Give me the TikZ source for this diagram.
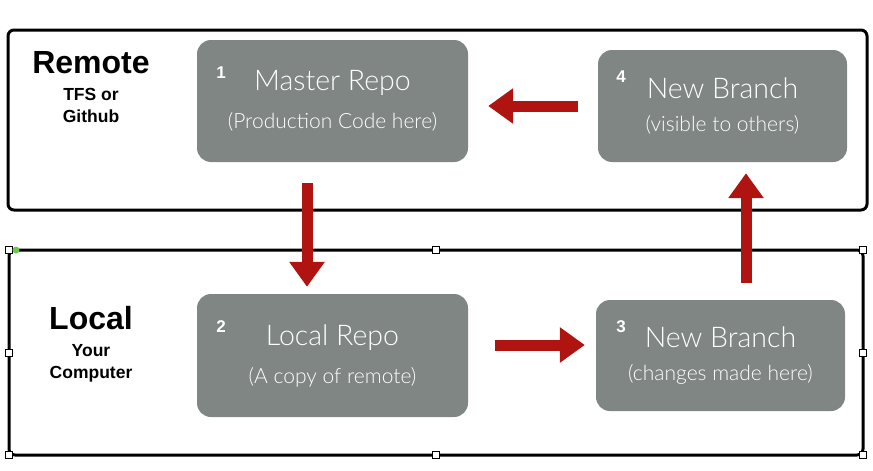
\documentclass[tikz,border=0pt]{standalone}
\usepackage{fontspec}
\setmainfont{Liberation Sans}
\IfFontExistsTF{Lato Light}{\newfontfamily\boxfont{Lato Light}}{\newfontfamily\boxfont{Lato}}
\usetikzlibrary{arrows.meta}
\definecolor{boxgray}{RGB}{128,134,131}
\definecolor{arrowred}{RGB}{175,20,17}
\definecolor{handlegreen}{RGB}{110,200,80}
\tikzset{
  frame/.style={draw=black, line width=3pt, rounded corners=6pt, inner sep=0pt},
  graybox/.style={fill=boxgray, rounded corners=14pt, inner sep=0pt, text=white, align=center, font=\boxfont},
  numlabel/.style={text=white, font=\bfseries\fontsize{17}{17}\selectfont, anchor=base, inner sep=0pt},
  bigtitle/.style={font=\bfseries\fontsize{32}{32}\selectfont, anchor=base, inner sep=0pt},
  smalltitle/.style={font=\bfseries\fontsize{17.5}{17.5}\selectfont, anchor=base, inner sep=0pt},
  redarrow/.style={draw=arrowred, line width=11pt, -{Triangle[width=34pt,length=25pt]}},
  handle/.style={draw=black, fill=white, line width=0.6pt, minimum size=6.5pt, inner sep=0pt},
}
\newcommand{\boxtext}[2]{{\fontsize{28.5}{28.5}\selectfont #1}\\[16pt]{\fontsize{21}{21}\selectfont #2}}
\begin{document}
\begin{tikzpicture}[x=1pt,y=-1pt]
\useasboundingbox (0,0) rectangle (873,471);
% outer frames
\node[frame, minimum width=859pt, minimum height=180pt] (remote) at (437.5,120) {};
\node[frame, minimum width=854pt, minimum height=205pt] (local) at (436,352.5) {};
% handles
\foreach \hx/\hy [count=\i] in {9/250,436/250,863/250,9/353,863/353,9/455,436/455,863/455}
  \node[handle] (h\i) at (\hx,\hy) {};
\fill[handlegreen] (16,250) circle (3.5pt);
% titles
\node[bigtitle] (remt) at (91,73) {Remote};
\node[smalltitle] (remt1) at (91,100) {TFS or};
\node[smalltitle] (remt2) at (91,122) {Github};
\node[bigtitle] (loct) at (91,329) {Local};
\node[smalltitle] (loct1) at (91,356) {Your};
\node[smalltitle] (loct2) at (91,378) {Computer};
% gray boxes
\node[graybox, minimum width=271pt, minimum height=122pt] (n1) at (332.5,101) {\boxtext{Master Repo}{(Production Code here)}};
\node[graybox, minimum width=271pt, minimum height=123pt] (n2) at (332.5,355.5) {\boxtext{Local Repo}{(A copy of remote)}};
\node[graybox, minimum width=249pt, minimum height=111pt] (n3) at (720.5,355.5) {\boxtext{New Branch}{(changes made here)}};
\node[graybox, minimum width=249pt, minimum height=112pt] (n4) at (722.5,106) {\boxtext{New Branch}{(visible to others)}};
% numbers
\node[numlabel] (l1) at (221,78) {1};
\node[numlabel] (l2) at (221,332) {2};
\node[numlabel] (l3) at (621,332) {3};
\node[numlabel] (l4) at (621,82) {4};
% arrows
\draw[redarrow, shorten <=21pt, shorten >=7pt] ([xshift=-25.5pt]n1.south) -- ([xshift=-25.5pt]n1.south |- n2.north);
\draw[redarrow, shorten <=27pt, shorten >=11pt] ([yshift=10.5pt]n2.east) -- ([yshift=10.5pt]n2.east -| n3.west);
\draw[redarrow, shorten <=17pt, shorten >=11pt] ([xshift=25.5pt]n3.north) -- ([xshift=25.5pt]n3.north |- n4.south);
\draw[redarrow, shorten <=20pt, shorten >=20pt] (n4.west) -- (n4.west -| n1.east);
\end{tikzpicture}
\end{document}
